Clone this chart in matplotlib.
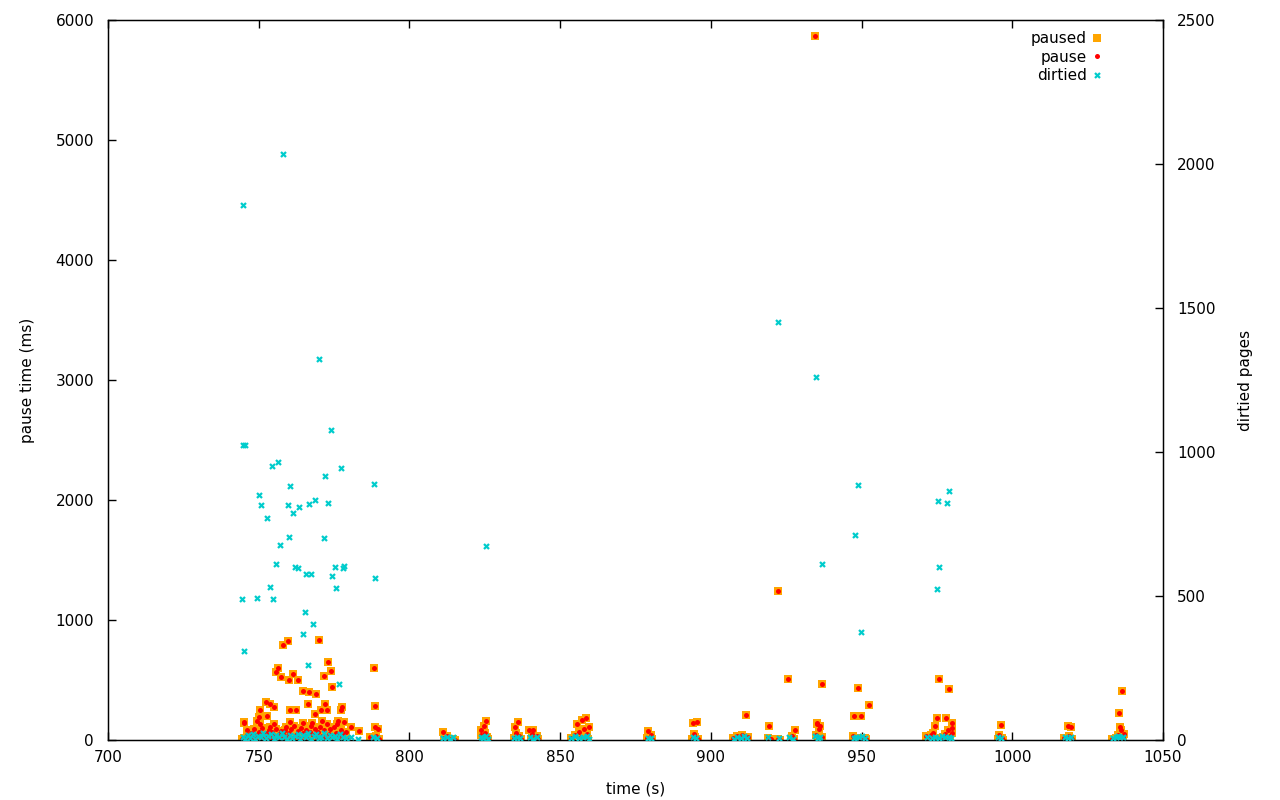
import numpy as np
import matplotlib.pyplot as plt

plt.rcParams['font.family'] = ['DejaVu Sans']
plt.rcParams['font.size'] = 11

# pause events: time (s) and pause length (ms)
pause_time = [
    745.1, 759.7, 758.1, 756.5, 755.7, 757.3, 760.2, 761.5, 752.5, 753.8, 755.0, 750.5,
    760.5, 752.9, 745.2, 750.1, 749.4, 750.5, 755.0, 753.8, 760.5, 758.8, 746.1,
    770.1, 773.1, 774.1, 771.8, 774.4, 763.1, 764.8, 766.8, 769.1, 766.5, 772.1, 777.7,
    777.2, 770.5, 772.5, 768.8, 762.4, 771.1, 776.4, 778.4, 767.6, 764.8,
    744.6, 745.0, 745.5, 746.2, 746.8, 747.3, 747.9, 748.4, 748.9, 749.5, 750.1, 750.6,
    751.2, 751.7, 752.3, 752.8, 753.4, 754.0, 754.5, 755.1, 755.6, 756.2, 756.8, 757.3,
    757.9, 758.4, 759.0, 759.6, 760.1, 760.7, 761.3, 761.8, 762.4, 763.0, 763.5, 764.1,
    764.7, 765.3, 765.8, 766.4, 767.0, 767.5, 768.1, 768.7, 769.2, 769.8, 770.4, 770.9,
    771.5, 772.1, 772.6, 773.2, 773.8, 774.3, 774.9, 775.5, 776.0, 776.6, 777.2, 777.8,
    778.3, 778.9, 779.4,
    744.8, 746.5, 749.0, 752.0, 755.0, 758.0, 761.0, 764.0, 767.0, 770.0, 773.0, 776.0, 779.0,
    788.3, 788.7, 788.7, 789.5, 787.6, 788.2, 789.0, 789.8, 786.9, 783.4, 780.7,
    811.1, 811.5, 812.0, 812.6, 813.2, 813.8, 814.5, 815.1,
    824.8, 825.4, 823.6, 823.9, 824.3, 824.8, 825.2, 825.7, 826.0,
    835.0, 836.0, 835.4, 834.6, 835.8, 836.5, 837.0,
    839.8, 840.5, 841.0, 841.6, 842.3, 842.8, 840.2,
    855.6, 857.3, 858.6, 859.6, 856.2, 854.8, 853.5, 857.9, 858.9, 859.3, 854.0, 856.8,
    879.2, 880.2, 878.8, 879.7, 880.5,
    894.1, 895.4, 894.4, 893.8, 894.9, 895.7,
    911.7, 907.4, 908.1, 908.8, 909.5, 910.2, 910.8, 911.3, 912.2, 909.0,
    919.3, 918.8, 919.8,
    922.4, 922.2, 922.8,
    925.6, 928.0, 927.0, 926.5, 927.6,
    934.6, 935.2, 936.2, 936.9, 935.3, 935.9, 934.8, 935.6, 936.4, 937.0,
    948.9, 952.3, 947.6, 949.9, 947.2, 948.0, 948.5, 949.5, 950.3, 951.0, 951.6,
    975.8, 979.1, 975.1, 978.1, 980.0, 974.5, 980.0, 971.5, 972.3, 973.0, 973.8, 974.9,
    976.2, 976.9, 977.6, 978.6, 979.4, 979.9, 978.9,
    996.2, 995.5, 996.0, 996.6, 995.2, 997.0,
    1018.4, 1019.4, 1017.3, 1018.0, 1018.9, 1019.8,
    1036.5, 1035.5, 1035.8, 1036.2, 1035.2, 1034.5, 1033.8, 1033.2, 1036.8, 1037.0,
]
pause_ms = [
    150, 825, 790, 602, 567, 525, 500, 550, 317, 300, 275, 250,
    250, 200, 142, 192, 161, 133, 133, 108, 152, 83, 83,
    830, 648, 575, 530, 440, 500, 408, 397, 383, 300, 300, 278,
    250, 250, 250, 217, 250, 160, 160, 152, 144, 144,
    5, 20, 8, 40, 12, 60, 25, 90, 10, 45, 70, 15,
    100, 30, 55, 8, 80, 20, 65, 35, 95, 12, 50, 75,
    18, 40, 110, 25, 60, 90, 14, 120, 45, 75, 20, 100,
    55, 30, 85, 10, 65, 120, 40, 95, 15, 70, 110, 35,
    80, 20, 130, 50, 90, 25, 105, 60, 130, 30, 85, 50,
    20, 70, 10,
    0, 2, 0, 3, 0, 2, 0, 1, 0, 2, 0, 1, 0,
    597, 283, 106, 89, 15, 5, 30, 10, 22, 72, 111,
    67, 20, 5, 30, 10, 3, 12, 2,
    117, 160, 85, 40, 15, 5, 60, 25, 8,
    108, 150, 60, 20, 5, 35, 10,
    80, 50, 83, 20, 30, 5, 10,
    133, 167, 183, 108, 70, 40, 15, 90, 50, 10, 3, 25,
    75, 42, 20, 5, 12,
    142, 150, 50, 10, 25, 5,
    208, 15, 5, 30, 10, 40, 20, 8, 25, 2,
    117, 20, 5,
    1240, 10, 3,
    506, 80, 30, 10, 5,
    5867, 130, 114, 464, 139, 92, 40, 15, 5, 25,
    430, 290, 197, 197, 30, 10, 5, 20, 3, 15, 8,
    506, 422, 180, 180, 139, 117, 97, 30, 10, 40, 60, 15,
    5, 25, 50, 80, 30, 60, 10,
    122, 40, 10, 20, 5, 3,
    117, 105, 15, 5, 30, 8,
    405, 222, 105, 80, 40, 15, 5, 10, 25, 50,
]
# "paused" marks are drawn at the same pause values
paused_time = pause_time
paused_ms = pause_ms

# dirtied pages per event
dirtied_time = [
    744.8, 744.9, 745.3, 744.6, 745.1, 758.1, 750.2, 750.8, 749.5, 752.9, 753.8, 754.8,
    754.5, 756.5, 755.8, 757.2, 760.5, 759.8, 761.5, 760.2, 762.1, 763.1, 763.5, 766.8,
    768.8, 765.2, 764.8, 765.8, 767.4, 770.1, 771.7, 772.1, 773.1, 774.1, 774.4, 775.4,
    775.7, 776.6, 777.4, 778.4, 778.0, 766.4, 768.1, 788.1, 788.6,
    825.4, 922.3, 934.9, 936.9, 947.8, 948.8, 949.8, 975.4, 975.8, 975.1, 978.4, 979.1,
    744.7, 745.4, 746.3, 747.1, 748.0, 748.8, 749.7, 750.6, 751.5, 752.4, 753.2, 754.1,
    755.0, 755.9, 756.8, 757.6, 758.5, 759.4, 760.3, 761.2, 762.0, 762.9, 763.8, 764.7,
    765.6, 766.4, 767.3, 768.2, 769.1, 770.0, 770.8, 771.7, 772.6, 773.5, 774.4, 775.2,
    776.1, 777.0, 777.9, 778.8, 780.5, 783.0, 788.0, 789.2,
    811.2, 812.3, 813.4, 814.6, 823.7, 824.5, 825.3, 826.0, 834.8, 835.7, 836.6,
    840.0, 841.1, 842.4, 853.6, 854.9, 856.3, 857.6, 858.8, 859.6, 879.0, 880.1,
    894.0, 895.2, 907.6, 908.7, 909.9, 911.0, 912.1, 919.0, 922.5, 925.8, 927.3,
    934.7, 935.5, 936.3, 947.4, 948.3, 949.2, 950.1, 951.2, 971.8, 973.2, 974.4,
    975.6, 976.7, 977.8, 979.0, 979.8, 995.4, 996.4, 1017.6, 1018.6, 1019.5,
    1033.4, 1034.3, 1035.1, 1035.9, 1036.7,
]
dirtied_pages = [
    1858, 1023, 1023, 488, 309, 2035, 850, 815, 492, 770, 530, 488,
    950, 964, 610, 676, 881, 815, 787, 704, 600, 596, 808, 818,
    832, 443, 367, 575, 575, 1323, 700, 916, 822, 1075, 568, 600,
    527, 194, 943, 603, 596, 260, 402, 889, 562,
    674, 1451, 1260, 611, 712, 885, 375, 830, 600, 523, 823, 865,
    12, 5, 18, 8, 22, 3, 15, 10, 25, 6, 14, 20,
    4, 16, 9, 24, 11, 2, 19, 7, 13, 22, 5, 17,
    10, 26, 3, 14, 20, 8, 12, 23, 6, 18, 9, 15,
    4, 21, 11, 7, 10, 5, 12, 8,
    6, 10, 4, 9, 12, 7, 15, 5, 8, 11, 6,
    9, 5, 12, 7, 13, 6, 10, 14, 5, 8, 6,
    10, 7, 5, 12, 8, 14, 6, 9, 7, 11, 5,
    13, 8, 10, 6, 12, 9, 14, 7, 10, 6, 12,
    8, 15, 9, 11, 6, 10, 7, 12, 6, 9,
    8, 12, 15, 9, 11,
]

fig = plt.figure(figsize=(12.8, 8), dpi=100)
ax = fig.add_axes([108 / 1280, 1 - 740 / 800, 1055 / 1280, 720 / 800])
ax2 = ax.twinx()

h1, = ax.plot(paused_time, paused_ms, 's', color='#ffa500', markersize=5.2,
              markeredgewidth=0, label='paused', zorder=2)
h2, = ax.plot(pause_time, pause_ms, 'o', color='#ff0000', markersize=3.6,
              markeredgewidth=0, label='pause', zorder=3)
h3, = ax2.plot(dirtied_time, dirtied_pages, 'x', color='#00cccc', markersize=3.6,
               markeredgewidth=1.6, label='dirtied', zorder=4)

ax.set_xlim(700, 1050)
ax.set_ylim(0, 6000)
ax2.set_ylim(0, 2500)
ax.set_xticks(np.arange(700, 1051, 50))
ax.set_yticks(np.arange(0, 6001, 1000))
ax2.set_yticks(np.arange(0, 2501, 500))

ax.tick_params(axis='x', direction='in', length=6, width=1, top=True, pad=7)
ax.tick_params(axis='y', direction='in', length=6, width=1, pad=10)
ax2.tick_params(axis='y', direction='in', length=6, width=1, pad=10)

ax.set_xlabel('time (s)', labelpad=12)
ax.set_ylabel('pause time (ms)', labelpad=15)
ax2.set_ylabel('dirtied pages', labelpad=16)

for sp in ax.spines.values():
    sp.set_linewidth(1)

leg = ax.legend(handles=[h1, h2, h3], loc='upper right', bbox_to_anchor=(0.9475, 0.993),
                frameon=False, markerfirst=False, handlelength=0.6, handletextpad=0.35,
                labelspacing=0.22, borderaxespad=0, fontsize=11)
for t in leg.get_texts():
    t.set_ha('right')

fig.savefig('out.png', dpi=100)
